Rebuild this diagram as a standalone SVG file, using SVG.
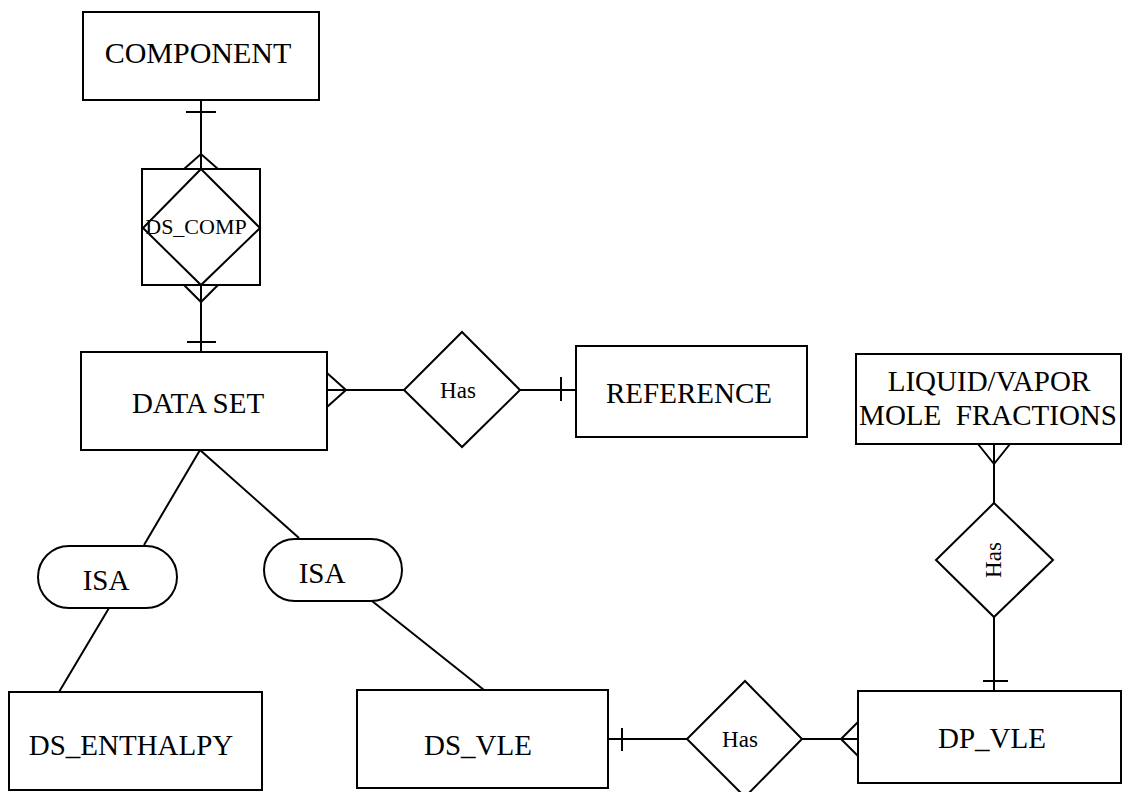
<svg xmlns="http://www.w3.org/2000/svg" width="1124" height="792" viewBox="0 0 1124 792">
  <style>
    .ent { fill: #fff; stroke: #000; stroke-width: 2; }
    .rel { fill: #fff; stroke: #000; stroke-width: 2; }
    .ln { fill: none; stroke: #000; stroke-width: 2; }
    .lbl { font-family: "Liberation Serif", "Times New Roman", serif; font-size: 29px; fill: #000; text-anchor: middle; }
    .sm { font-family: "Liberation Serif", "Times New Roman", serif; font-size: 23px; fill: #000; text-anchor: middle; }
  </style>
  <rect width="1124" height="792" fill="#fff"/>

  <!-- connectors -->
  <g id="connectors">
    <!-- COMPONENT to DS_COMP -->
    <path class="ln" d="M201,100 V169 M186,112 H216 M184,169 L201,154 L218,169"/>
    <!-- DS_COMP to DATA SET -->
    <path class="ln" d="M201,285 V352 M184,285 L201,302 L218,285 M187,342 H216"/>
    <!-- DATA SET to Has to REFERENCE -->
    <path class="ln" d="M327,390 H404 M327,373 L346,390 L327,407"/>
    <path class="ln" d="M520,390 H576 M561,377 V401"/>
    <!-- ISA hierarchy -->
    <path class="ln" d="M200,450 L144,545 M109,608 L59,692"/>
    <path class="ln" d="M200,450 L299,538 M372,601 L484,690"/>
    <!-- DS_VLE to Has to DP_VLE -->
    <path class="ln" d="M608,739 H687 M622,728 V751"/>
    <path class="ln" d="M802,739 H858 M858,722 L841,739 L858,756"/>
    <!-- LIQUID/VAPOR to Has to DP_VLE -->
    <path class="ln" d="M994,444 V503 M978,444 L994,464 L1010,444"/>
    <path class="ln" d="M994,617 V691 M983,681 H1008"/>
  </g>

  <g id="component">
    <rect class="ent" x="83" y="12" width="236" height="88"/>
    <text class="lbl" x="198" y="63" style="font-size:30px">COMPONENT</text>
  </g>

  <g id="ds_comp">
    <rect class="ent" x="142" y="169" width="118" height="116"/>
    <polygon class="rel" points="201,169 260,228 201,285 143,228"/>
    <text class="sm" x="196" y="234" style="font-size:22px">DS_COMP</text>
  </g>

  <g id="data_set">
    <rect class="ent" x="81" y="352" width="246" height="98"/>
    <text class="lbl" x="198" y="413">DATA SET</text>
  </g>

  <g id="has_reference">
    <polygon class="rel" points="462,332 520,390 462,447 404,390"/>
    <text class="sm" x="458" y="398">Has</text>
  </g>

  <g id="reference">
    <rect class="ent" x="576" y="346" width="231" height="91"/>
    <text class="lbl" x="689" y="403">REFERENCE</text>
  </g>

  <g id="isa_enthalpy">
    <rect class="ent" x="38" y="546" width="139" height="62" rx="31" ry="31"/>
    <text class="lbl" x="106" y="590">ISA</text>
  </g>

  <g id="isa_vle">
    <rect class="ent" x="264" y="539" width="138" height="62" rx="31" ry="31"/>
    <text class="lbl" x="322" y="583">ISA</text>
  </g>

  <g id="ds_enthalpy">
    <rect class="ent" x="9" y="692" width="253" height="98"/>
    <text class="lbl" x="131" y="755">DS_ENTHALPY</text>
  </g>

  <g id="ds_vle">
    <rect class="ent" x="357" y="690" width="251" height="98"/>
    <text class="lbl" x="478" y="755">DS_VLE</text>
  </g>

  <g id="has_dp_vle">
    <polygon class="rel" points="745,681 802,739 745,797 687,739"/>
    <text class="sm" x="740" y="747">Has</text>
  </g>

  <g id="dp_vle">
    <rect class="ent" x="858" y="691" width="263" height="92"/>
    <text class="lbl" x="992" y="748">DP_VLE</text>
  </g>

  <g id="liquid_vapor">
    <rect class="ent" x="856" y="354" width="265" height="90"/>
    <text class="lbl" x="989" y="391">LIQUID/VAPOR</text>
    <text class="lbl" x="988" y="425" xml:space="preserve">MOLE  FRACTIONS</text>
  </g>

  <g id="has_mole_fractions">
    <polygon class="rel" points="994,503 1053,560 994,617 936,560"/>
    <text class="sm" transform="translate(1001,560) rotate(-90)" x="0" y="0">Has</text>
  </g>
</svg>
